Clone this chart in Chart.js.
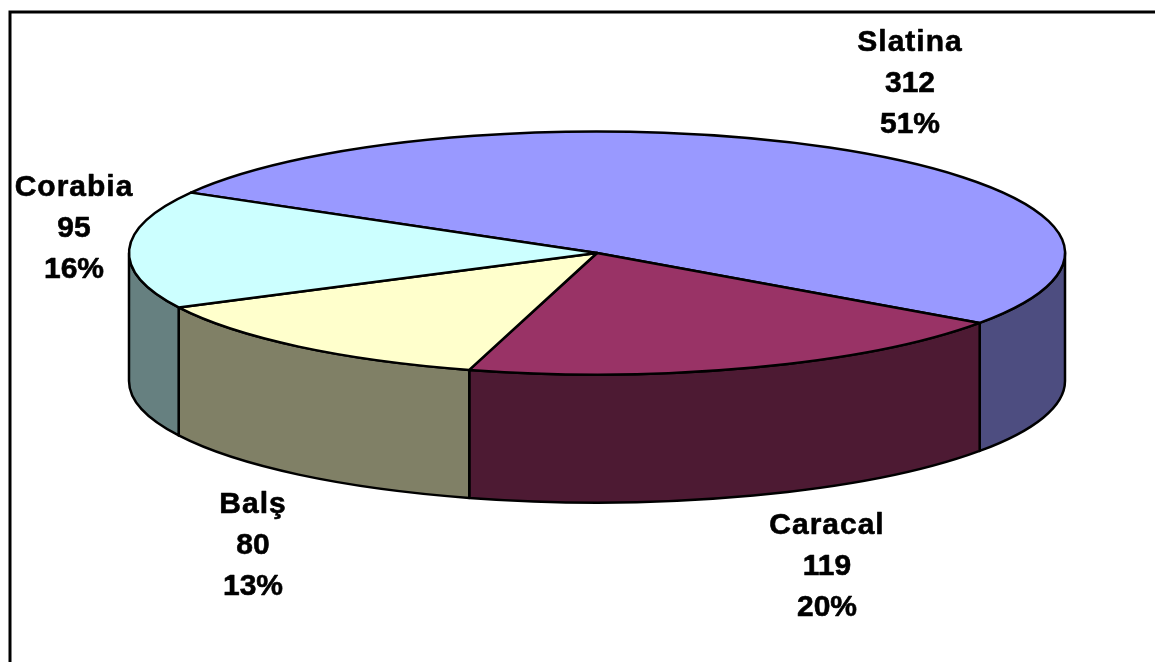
<!DOCTYPE html>
<html>
<head>
<meta charset="utf-8">
<title>Pie</title>
<script src="https://cdn.jsdelivr.net/npm/chart.js@4/dist/chart.umd.min.js"></script>
<style>
  html, body { margin: 0; padding: 0; background: #fff; overflow: hidden; }
  canvas { display: block; }
</style>
</head>
<body>
<canvas id="pieChart" width="1155" height="662"></canvas>
<script>
const towns = ["Slatina", "Caracal", "Balş", "Corabia"];
const counts = [312, 119, 80, 95];
const shares = ["51%", "20%", "13%", "16%"];
const topColors = ["#9999FF", "#993366", "#FFFFCC", "#CCFFFF"];
const sideColors = ["#4D4D80", "#4D1A33", "#808066", "#668080"];

// where each three line label goes (middle line)
const labelX = [910, 827, 253, 74];
const labelY = [84, 567, 546, 229];

// the flat look of the pie
const RADIUS_X = 468;
const RADIUS_Y = 121.5;
const DEPTH = 128;

const flatPie = {
    id: 'flatPie',
    beforeDatasetsDraw(chart) {
        const ctx = chart.ctx;
        const arcs = chart.getDatasetMeta(0).data;
        const cx = arcs[0].x, cy = arcs[0].y;

        // frame, only top and left are inside the window
        ctx.strokeStyle = '#000';
        ctx.lineWidth = 3;
        ctx.beginPath();
        ctx.moveTo(10, 662);
        ctx.lineTo(10, 12);
        ctx.lineTo(1155, 12);
        ctx.stroke();

        ctx.lineWidth = 2.5;
        ctx.lineJoin = 'round';

        // side wall, only the front half of the ellipse shows
        arcs.forEach((arc, i) => {
            for (let k = -1; k <= 1; k++) {
                const from = Math.max(arc.startAngle, k * 2 * Math.PI);
                const to = Math.min(arc.endAngle, k * 2 * Math.PI + Math.PI);
                if (to <= from) continue;
                ctx.beginPath();
                ctx.ellipse(cx, cy, RADIUS_X, RADIUS_Y, 0, from, to);
                ctx.ellipse(cx, cy + DEPTH, RADIUS_X, RADIUS_Y, 0, to, from, true);
                ctx.closePath();
                ctx.fillStyle = sideColors[i];
                ctx.fill();
                ctx.stroke();
            }
        });

        // top face
        arcs.forEach((arc, i) => {
            ctx.beginPath();
            ctx.moveTo(cx, cy);
            ctx.ellipse(cx, cy, RADIUS_X, RADIUS_Y, 0, arc.startAngle, arc.endAngle);
            ctx.closePath();
            ctx.fillStyle = topColors[i];
            ctx.fill();
            ctx.stroke();
        });

        // labels, a thin stroke makes them as heavy as the reference
        ctx.fillStyle = '#000';
        ctx.lineWidth = 0.6;
        ctx.font = 'bold 30px "Liberation Sans", Arial, sans-serif';
        ctx.textAlign = 'center';
        ctx.textBaseline = 'middle';
        const put = (text, x, y) => {
            ctx.fillText(text, x, y);
            ctx.strokeText(text, x, y);
        };
        towns.forEach((town, i) => {
            ctx.letterSpacing = '1px';
            put(town, labelX[i], labelY[i] - 41);
            ctx.letterSpacing = '0px';
            put(String(counts[i]), labelX[i], labelY[i]);
            put(shares[i], labelX[i], labelY[i] + 41);
        });
        return false;
    }
};

new Chart(document.getElementById('pieChart'), {
    type: 'pie',
    data: {
        labels: towns,
        datasets: [{
            data: counts,
            backgroundColor: topColors,
        }]
    },
    options: {
        responsive: false,
        animation: false,
        rotation: -60.2,
        layout: { padding: { left: 39, bottom: 156 } },
        plugins: { legend: { display: false }, tooltip: { enabled: false } }
    },
    plugins: [flatPie]
});
</script>
</body>
</html>
